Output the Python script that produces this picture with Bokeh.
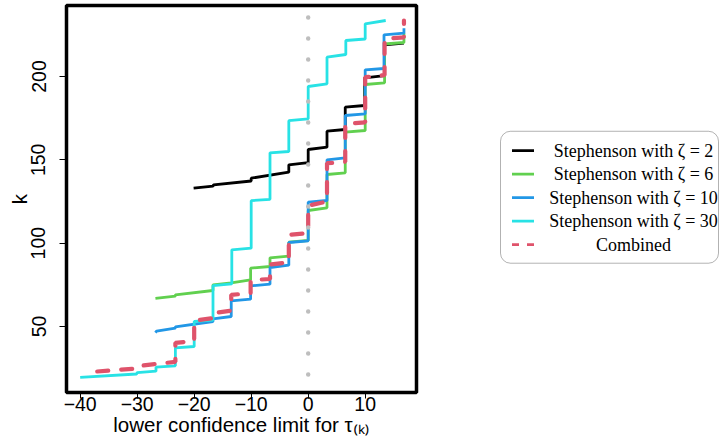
from bokeh.plotting import figure
from bokeh.layouts import row
from bokeh.models import Range1d, FixedTicker, Span, BoxAnnotation
from bokeh.core.properties import value
from bokeh.embed import file_html
from bokeh.resources import INLINE

# ---------------- data ----------------
black_x = [-20.1, -16.7, -16.6, -10.0, -10.0, -3.4, -3.4, 0.0, 0.0, 3.3, 3.3, 6.5, 6.5, 9.9, 9.9, 13.4, 13.4, 16.8]
black_k = [133.0, 134.2, 135.0, 137.3, 139.0, 142.6, 147.0, 148.3, 156.2, 157.6, 167.2, 168.2, 181.6, 182.6, 199.2, 200.5, 219.0, 220.0]

green_x = [-26.8, -23.3, -23.3, -16.7, -16.7, -13.5, -10.1, -10.1, -6.7, -6.7, -3.4, -3.4, 0.0, 0.0, 3.3, 3.3, 6.5, 6.5, 10.0, 10.0, 13.4, 13.4, 16.8, 16.8]
green_k = [66.9, 68.2, 69.0, 71.6, 75.0, 76.2, 78.0, 85.0, 86.0, 91.2, 92.2, 100.6, 101.6, 119.6, 121.2, 141.2, 142.2, 166.6, 167.6, 195.2, 196.2, 219.5, 220.4, 226.0]

blue_x = [-26.8, -26.6, -23.3, -23.3, -16.7, -16.7, -13.5, -13.5, -10.1, -10.1, -6.7, -6.7, -3.4, -3.4, 0.0, 0.0, 3.3, 3.3, 6.5, 6.5, 10.0, 10.0, 13.3, 13.3, 16.8, 16.8]
blue_k = [46.3, 47.2, 49.0, 49.8, 53.0, 54.6, 56.0, 65.4, 66.4, 74.4, 75.4, 85.4, 86.8, 100.4, 101.4, 124.6, 125.6, 150.0, 151.2, 176.6, 177.6, 204.0, 204.8, 225.0, 226.0, 229.0]

cyan_x = [-40.0, -30.1, -30.0, -26.7, -26.7, -23.3, -23.3, -20.0, -20.0, -16.7, -16.7, -13.4, -13.4, -10.0, -10.0, -6.7, -6.7, -3.4, -3.4, 0.0, 0.0, 3.3, 3.3, 6.6, 6.6, 10.0, 10.0, 13.6]
cyan_k = [19.5, 21.5, 22.3, 23.2, 25.6, 26.4, 37.2, 38.0, 53.0, 53.8, 74.5, 75.6, 96.0, 97.0, 125.5, 126.3, 154.2, 155.0, 173.5, 174.6, 194.0, 195.6, 211.6, 213.2, 221.6, 222.5, 231.6, 233.6]

comb_x = [-37.0, -30.2, -30.0, -26.7, -23.3, -23.3, -20.0, -20.0, -16.7, -16.7, -13.5, -13.5, -10.1, -10.1, -6.7, -6.7, -3.4, -3.4, 0.0, 0.0, 3.3, 3.3, 6.5, 6.5, 10.0, 10.0, 13.4, 13.4, 16.8, 16.8]
comb_k = [23.0, 24.8, 26.2, 27.5, 28.8, 40.2, 41.3, 53.5, 55.0, 58.0, 59.5, 69.0, 70.0, 77.8, 78.5, 87.2, 88.4, 105.0, 106.0, 122.5, 125.0, 148.0, 148.8, 171.6, 172.5, 199.6, 200.8, 222.6, 223.5, 233.6]

x_ticks = [-40, -30, -20, -10, 0, 10]
x_tick_labels = ["\u221240", "\u221230", "\u221220", "\u221210", "0", "10"]
y_ticks = [50, 100, 150, 200]
y_tick_labels = ["50", "100", "150", "200"]

legend_labels = ["Stephenson with \u03b6 = 2", "Stephenson with \u03b6 = 6",
                 "Stephenson with \u03b6 = 10", "Stephenson with \u03b6 = 30", "Combined"]
x_title = "lower confidence limit for \u03c4\u208d\u2096\u208e"
y_title = "k"

BLACK, GREEN, BLUE, CYAN, RED = "#000000", "#61D04F", "#2297E6", "#28E2E5", "#DF536B"

# ---------------- main plot ----------------
p = figure(width=436, height=440, output_backend="svg", toolbar_location=None,
           x_range=Range1d(-42.4, 19.0), y_range=Range1d(10.4, 242.6),
           min_border_left=66, min_border_right=20, min_border_top=5, min_border_bottom=48)
p.xgrid.visible = False
p.ygrid.visible = False
p.outline_line_color = "black"
p.outline_line_width = 3.5
p.background_fill_color = "white"
p.border_fill_color = "white"

for ax, ticks, labels in ((p.xaxis[0], x_ticks, x_tick_labels), (p.yaxis[0], y_ticks, y_tick_labels)):
    ax.ticker = FixedTicker(ticks=ticks)
    ax.major_label_overrides = {t: l for t, l in zip(ticks, labels)}
    ax.axis_line_color = None
    ax.major_tick_in = 0
    ax.major_tick_line_width = 1
    ax.minor_tick_line_color = None
    ax.major_label_text_font = "Liberation Sans"
    ax.major_label_text_font_size = "19.5px"
    ax.major_label_text_color = "black"
    ax.axis_label_text_font = "Liberation Sans"
    ax.axis_label_text_font_size = "20.5px"
    ax.axis_label_text_font_style = "normal"
    ax.axis_label_text_color = "black"

p.xaxis.major_tick_out = 6
p.yaxis.major_tick_out = 7
p.xaxis.major_label_standoff = -2
p.yaxis.major_label_standoff = 14
p.yaxis.major_label_orientation = "vertical"
p.xaxis.axis_label = x_title
p.yaxis.axis_label = y_title
p.xaxis.axis_label_standoff = -1
p.yaxis.axis_label_standoff = -2

p.add_layout(Span(location=0, dimension="height", line_color="#BEBEBE", line_width=4.5,
                  line_dash="0 21", line_cap="round", line_dash_offset=9))

p.line(black_x, black_k, line_color=BLACK, line_width=2.8)
p.line(green_x, green_k, line_color=GREEN, line_width=2.8)
p.line(blue_x, blue_k, line_color=BLUE, line_width=2.8)
p.line(cyan_x, cyan_k, line_color=CYAN, line_width=2.8)
p.line(comb_x, comb_k, line_color=RED, line_width=4.2, line_dash="11 13", line_cap="round")

# ---------------- legend panel (picture pixel coordinates) ----------------
lg = figure(width=292, height=440, output_backend="svg", toolbar_location=None,
            x_range=Range1d(436, 728), y_range=Range1d(440, 0),
            min_border=0, x_axis_type=None, y_axis_type=None)
lg.xgrid.visible = False
lg.ygrid.visible = False
lg.outline_line_color = None
lg.add_layout(BoxAnnotation(left=500, right=718, top=143, bottom=293, fill_color=None,
                            line_color="black", line_width=1, border_radius=10))
rows = [165.0 + 26.7 * i for i in range(len(legend_labels))]
colors = [BLACK, GREEN, BLUE, CYAN]
lg.segment(x0=[511.5] * 4, x1=[533.5] * 4, y0=rows[:4], y1=rows[:4],
           line_color=colors, line_width=2.8)
lg.segment(x0=[511.5], x1=[533.5], y0=[rows[4]], y1=[rows[4]], line_color=RED,
           line_width=2.8, line_dash="7 8")
lg.text(x=[633] * 5, y=rows, text=legend_labels, text_align="center", text_baseline="middle",
        text_font=value("Liberation Serif"), text_font_size="18px", text_color="black")

layout = row(p, lg)
open("out.html", "w").write(file_html(layout, INLINE))
